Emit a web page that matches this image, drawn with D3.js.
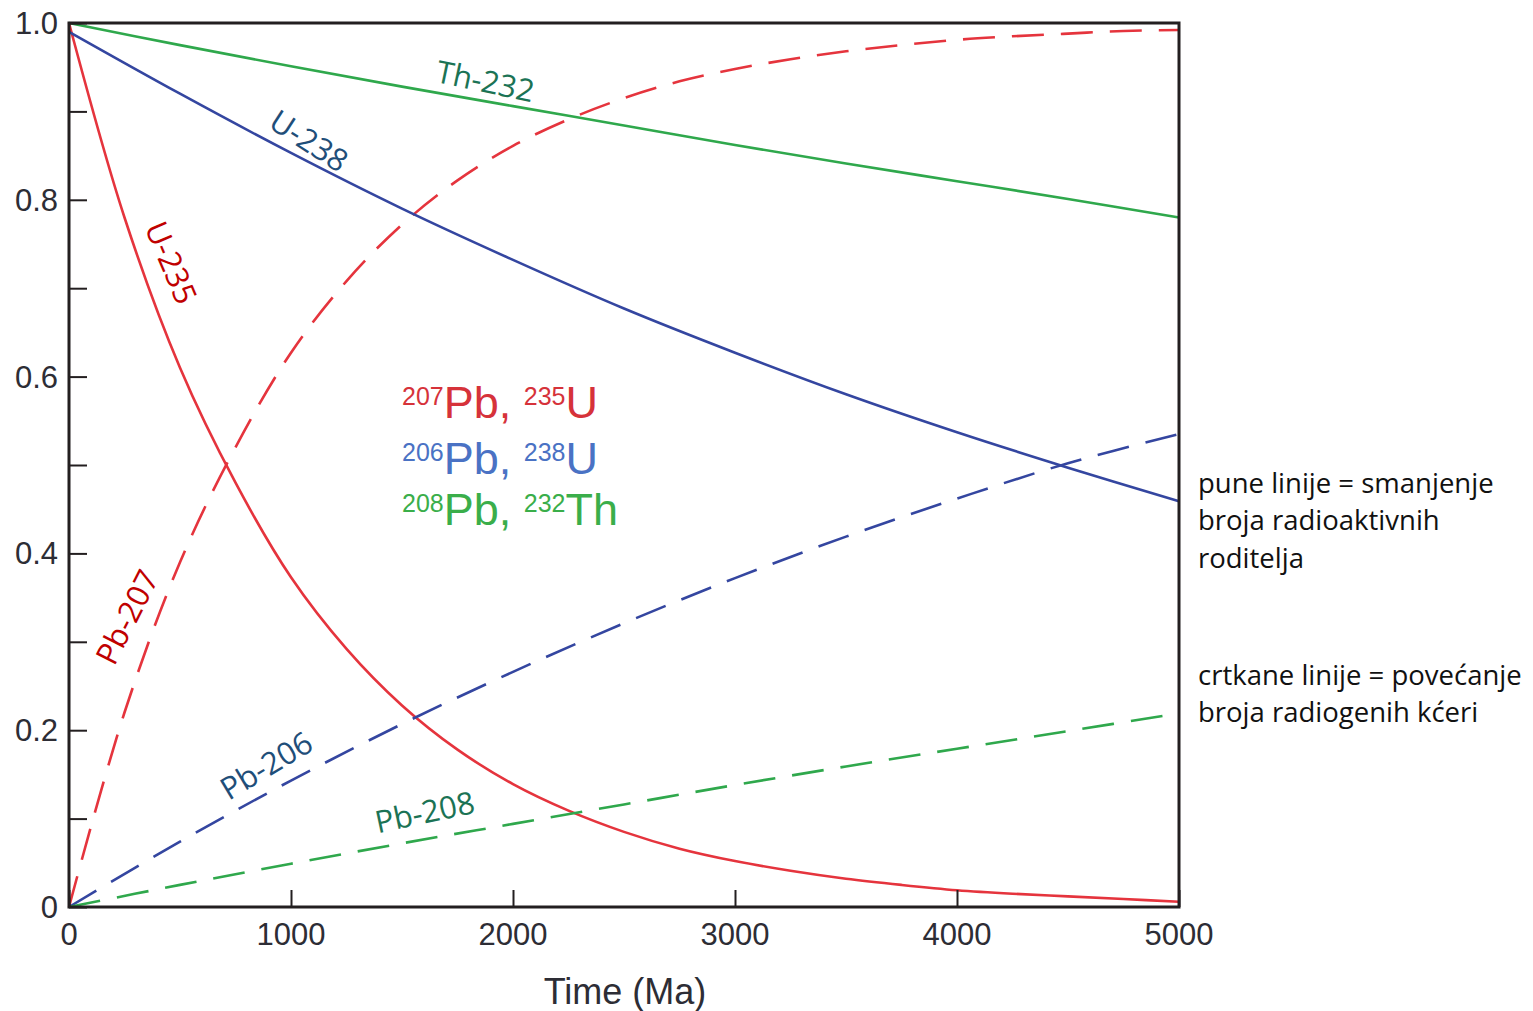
<!DOCTYPE html>
<meta charset="utf-8">
<script src="https://d3js.org/d3.v7.min.js"></script>
<style>
  body { margin: 0; background: #fff; }
</style>
<div id="chart"></div>
<script>

// time axis (Ma)
var tFine = [0, 250, 500, 750, 1000, 1250, 1500, 1750, 2000, 2250, 2500, 2750, 3000, 3250, 3500, 3750, 4000, 4250, 4500, 4750, 5000];
var tCoarse = [0, 500, 1000, 1500, 2000, 2500, 3000, 3500, 4000, 4500, 5000];

// values
var u235  = [1.0, 0.78, 0.61, 0.48, 0.373, 0.292, 0.228, 0.178, 0.139, 0.109, 0.085, 0.066, 0.052, 0.041, 0.032, 0.025, 0.019, 0.015, 0.012, 0.009, 0.006];
var pb207 = [0, 0.22, 0.39, 0.52, 0.627, 0.708, 0.772, 0.822, 0.861, 0.891, 0.915, 0.934, 0.948, 0.959, 0.968, 0.975, 0.981, 0.985, 0.988, 0.991, 0.992];
var u238  = [0.99, 0.92, 0.853, 0.79, 0.732, 0.677, 0.627, 0.58, 0.537, 0.497, 0.459];
var pb206 = [0, 0.074, 0.143, 0.207, 0.266, 0.321, 0.372, 0.419, 0.462, 0.502, 0.535];
var th232 = [1.0, 0.975, 0.951, 0.928, 0.906, 0.884, 0.862, 0.841, 0.821, 0.801, 0.78];
var pb208 = [0, 0.025, 0.049, 0.072, 0.094, 0.116, 0.138, 0.159, 0.179, 0.199, 0.219];

var xTicks = [0, 1000, 2000, 3000, 4000, 5000];
var yTicks = [0, 0.1, 0.2, 0.3, 0.4, 0.5, 0.6, 0.7, 0.8, 0.9, 1.0];
var yLabels = {0: "0", 0.2: "0.2", 0.4: "0.4", 0.6: "0.6", 0.8: "0.8", 1: "1.0"};

var width = 1533, height = 1011;
var plotL = 69, plotR = 1179, plotT = 23, plotB = 907;

var svg = d3.select("#chart").append("svg")
    .attr("width", width)
    .attr("height", height)
    .style("background", "#fff");

var x = d3.scaleLinear().domain([0, 5000]).range([plotL, plotR]);
var y = d3.scaleLinear().domain([0, 1]).range([plotB, plotT]);

var red = "#e5343d", blue = "#3446a0", green = "#2fa84c";

function pairs(ts, vs) { return ts.map(function(t, i) { return [t, vs[i]]; }); }

var line = d3.line()
    .x(function(d) { return x(d[0]); })
    .y(function(d) { return y(d[1]); })
    .curve(d3.curveCatmullRom.alpha(0.5));

var series = [
  {t: tFine,   v: u235,  c: red,   dash: null},
  {t: tFine,   v: pb207, c: red,   dash: "32,17"},
  {t: tCoarse, v: u238,  c: blue,  dash: null},
  {t: tCoarse, v: pb206, c: blue,  dash: "32,17"},
  {t: tCoarse, v: th232, c: green, dash: null},
  {t: tCoarse, v: pb208, c: green, dash: "32,17"}
];

series.forEach(function(s) {
  svg.append("path")
      .attr("d", line(pairs(s.t, s.v)))
      .attr("fill", "none")
      .attr("stroke", s.c)
      .attr("stroke-width", 2.6)
      .attr("stroke-dasharray", s.dash);
});

// frame
svg.append("rect")
    .attr("x", plotL).attr("y", plotT)
    .attr("width", plotR - plotL).attr("height", plotB - plotT)
    .attr("fill", "none")
    .attr("stroke", "#231f20")
    .attr("stroke-width", 3);

// inward ticks
var yAxis = d3.axisRight(y).tickValues(yTicks).tickSize(18)
    .tickFormat(function() { return ""; });
svg.append("g").attr("transform", "translate(" + plotL + ",0)").call(yAxis)
    .call(function(g) { g.select(".domain").remove(); })
    .selectAll("line").attr("stroke", "#231f20").attr("stroke-width", 2);

var xAxis = d3.axisTop(x).tickValues(xTicks).tickSize(17)
    .tickFormat(function() { return ""; });
svg.append("g").attr("transform", "translate(0," + plotB + ")").call(xAxis)
    .call(function(g) { g.select(".domain").remove(); })
    .selectAll("line").attr("stroke", "#231f20").attr("stroke-width", 2);

// tick labels
svg.selectAll(".ylab").data(yTicks.filter(function(d) { return yLabels[d] !== undefined; }))
  .enter().append("text")
    .attr("x", plotL - 11)
    .attr("y", function(d) { return y(d) + 11; })
    .attr("text-anchor", "end")
    .style("font-family", "Liberation Sans, Arial, sans-serif")
    .style("font-size", "31px")
    .style("fill", "#2d2d35")
    .text(function(d) { return yLabels[d]; });

svg.selectAll(".xlab").data(xTicks)
  .enter().append("text")
    .attr("x", function(d) { return x(d); })
    .attr("y", plotB + 38)
    .attr("text-anchor", "middle")
    .style("font-family", "Liberation Sans, Arial, sans-serif")
    .style("font-size", "31px")
    .style("fill", "#2d2d35")
    .text(function(d) { return d; });

svg.append("text")
    .attr("x", 625).attr("y", 1004)
    .attr("text-anchor", "middle")
    .style("font-family", "Liberation Sans, Arial, sans-serif")
    .style("font-size", "36px")
    .style("fill", "#2d2d35")
    .text("Time (Ma)");

// curve labels
var labels = [
  {t: "Th-232", x: 483, y: 92,  a: 12,  c: "#1b7355"},
  {t: "U-238",  x: 303, y: 150, a: 33,  c: "#1f4e79"},
  {t: "U-235",  x: 161, y: 267, a: 67,  c: "#c00000"},
  {t: "Pb-207", x: 137, y: 622, a: -63, c: "#c00000"},
  {t: "Pb-206", x: 272, y: 775, a: -31, c: "#1f4e79"},
  {t: "Pb-208", x: 427, y: 823, a: -12, c: "#1b7355"}
];
labels.forEach(function(l) {
  svg.append("text")
      .attr("transform", "translate(" + l.x + "," + l.y + ") rotate(" + l.a + ")")
      .attr("text-anchor", "middle")
      .style("font-family", "Open Sans, sans-serif")
      .style("font-size", "31px")
      .style("fill", l.c)
      .text(l.t);
});

// legend inside plot
var legend = [
  {a: "207", b: "Pb, ", c: "235", d: "U",  col: "#d6323a", y: 418},
  {a: "206", b: "Pb, ", c: "238", d: "U",  col: "#4a72c4", y: 474},
  {a: "208", b: "Pb, ", c: "232", d: "Th", col: "#3aae4a", y: 525}
];
legend.forEach(function(l) {
  var txt = svg.append("text")
      .attr("x", 402).attr("y", l.y)
      .style("font-family", "Liberation Sans, Arial, sans-serif")
      .style("fill", l.col);
  txt.append("tspan").attr("dy", -13).style("font-size", "25px").text(l.a);
  txt.append("tspan").attr("dy", 13).style("font-size", "45px").text(l.b);
  txt.append("tspan").attr("dy", -13).style("font-size", "25px").text(l.c);
  txt.append("tspan").attr("dy", 13).style("font-size", "45px").text(l.d);
});

// notes on the right
var notes = [
  {t: "pune linije = smanjenje", y: 493},
  {t: "broja radioaktivnih", y: 530},
  {t: "roditelja", y: 568},
  {t: "crtkane linije = povećanje", y: 685},
  {t: "broja radiogenih kćeri", y: 722}
];
svg.selectAll(".note").data(notes).enter().append("text")
    .attr("x", 1198)
    .attr("y", function(d) { return d.y; })
    .style("font-family", "Open Sans, sans-serif")
    .style("font-size", "27.5px")
    .style("fill", "#111")
    .text(function(d) { return d.t; });

</script>
